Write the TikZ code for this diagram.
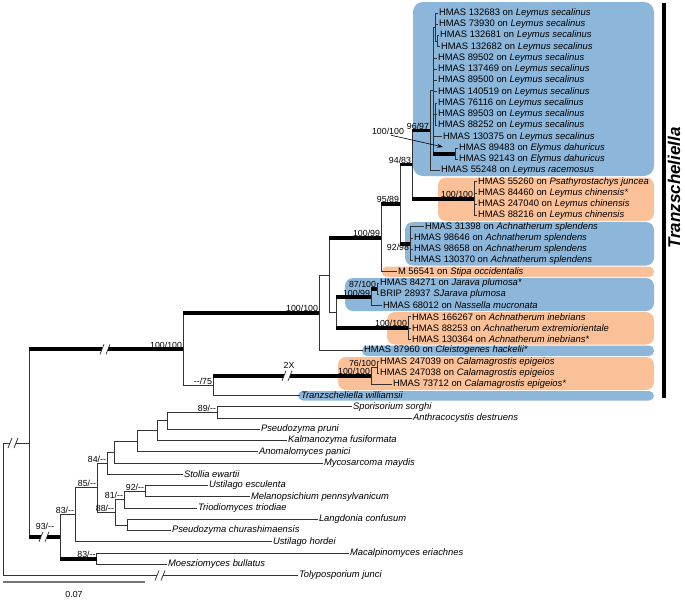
\documentclass[tikz,border=0pt]{standalone}
\usepackage{fontspec}
\setmainfont{Liberation Sans}
\usepackage{xcolor}
\usetikzlibrary{arrows.meta}
\definecolor{cladeblue}{RGB}{140,182,218}
\definecolor{cladeorange}{RGB}{250,192,152}
\tikzset{
  leaf/.style={anchor=west,inner sep=0.8pt,font=\fontsize{9.4}{10}\selectfont},
  br/.style={draw=black!80,line width=0.75pt},
  bs/.style={draw=black,line width=3.8pt},
  bsv/.style={anchor=south east,inner sep=0.8pt,font=\fontsize{8.8}{9}\selectfont},
  brk/.pic={\fill[white] (-3,-3) rectangle (3,3);
            \draw[black!80,line width=0.75pt] (-5,5) -- (-1,-5) (1,5) -- (5,-5);},
}

\begin{document}
\begin{tikzpicture}[x=1pt,y=-1pt,font=\fontsize{9.4}{10}\selectfont]
  \useasboundingbox (0,0) rectangle (685,600);
  \foreach \c/\r/\xa/\ya/\yb in {cladeblue/10/413/2/176, cladeorange/8/438/177.5/221,
      cladeblue/8/405/222/265.5, cladeorange/5/382/266.5/277, cladeblue/8/345/278/311,
      cladeorange/8/387/312/344.5, cladeblue/5/362/345.5/356, cladeorange/8/338/357/390,
      cladeblue/5/298/391/400.5}
    \fill[\c,rounded corners=\r pt] (\xa,\ya) rectangle (654,\yb);

  \foreach \i/\x/\t in {1/438/{HMAS 132683 on \textit{Leymus secalinus}},
      2/438/{HMAS 73930 on \textit{Leymus secalinus}},
      3/439/{HMAS 132681 on \textit{Leymus secalinus}},
      4/440/{HMAS 132682 on \textit{Leymus secalinus}},
      5/437/{HMAS 89502 on \textit{Leymus secalinus}},
      6/437/{HMAS 137469 on \textit{Leymus secalinus}},
      7/437/{HMAS 89500 on \textit{Leymus secalinus}},
      8/437/{HMAS 140519 on \textit{Leymus secalinus}},
      9/437/{HMAS 76116 on \textit{Leymus secalinus}},
      10/437/{HMAS 89503 on \textit{Leymus secalinus}},
      11/437/{HMAS 88252 on \textit{Leymus secalinus}},
      12/442/{HMAS 130375 on \textit{Leymus secalinus}},
      13/458/{HMAS 89483 on \textit{Elymus dahuricus}},
      14/458/{HMAS 92143 on \textit{Elymus dahuricus}},
      15/440/{HMAS 55248 on \textit{Leymus racemosus}},
      16/477/{HMAS 55260 on \textit{Psathyrostachys juncea}},
      17/477/{HMAS 84460 on \textit{Leymus chinensis*}},
      18/477/{HMAS 247040 on \textit{Leymus chinensis}},
      19/477/{HMAS 88216 on \textit{Leymus chinensis}},
      20/424/{HMAS 31398 on \textit{Achnatherum splendens}},
      21/413/{HMAS 98646 on \textit{Achnatherum splendens}},
      22/413/{HMAS 98658 on \textit{Achnatherum splendens}},
      23/413/{HMAS 130370 on \textit{Achnatherum splendens}},
      24/397/{M 56541 on \textit{Stipa occidentalis}},
      25/379/{HMAS 84271 on \textit{Jarava plumosa*}},
      26/379/{BRIP 28937 \textit{SJarava plumosa}},
      27/382/{HMAS 68012 on \textit{Nassella mucronata}},
      28/411/{HMAS 166267 on \textit{Achnatherum inebrians}},
      29/411/{HMAS 88253 on \textit{Achnatherum extremiorientale}},
      30/411/{HMAS 130364 on \textit{Achnatherum inebrians*}},
      31/363/{HMAS 87960 on \textit{Cleistogenes hackelii*}},
      32/379/{HMAS 247039 on \textit{Calamagrostis epigeios}},
      33/379/{HMAS 247038 on \textit{Calamagrostis epigeios}},
      34/392/{HMAS 73712 on \textit{Calamagrostis epigeios*}},
      35/300/{\textit{Tranzscheliella williamsii}},
      36/352/{\textit{Sporisorium sorghi}},
      37/412/{\textit{Anthracocystis destruens}},
      38/260/{\textit{Pseudozyma pruni}},
      39/287/{\textit{Kalmanozyma fusiformata}},
      40/258/{\textit{Anomalomyces panici}},
      41/323/{\textit{Mycosarcoma maydis}},
      42/183/{\textit{Stollia ewartii}},
      43/208/{\textit{Ustilago esculenta}},
      44/250/{\textit{Melanopsichium pennsylvanicum}},
      45/197/{\textit{Triodiomyces triodiae}},
      46/318/{\textit{Langdonia confusum}},
      47/171/{\textit{Pseudozyma churashimaensis}},
      48/272/{\textit{Ustilago hordei}},
      49/349/{\textit{Macalpinomyces eriachnes}},
      50/167/{\textit{Moesziomyces bullatus}},
      51/298/{\textit{Tolyposporium junci}}}
    \node[leaf] (t\i) at (\x,{13+(\i-1)*11.25}) {\t};

  \coordinate (n2) at (437,41.1);
  \coordinate (ta) at (435,27.1);
  \coordinate (ua) at (435,114.3);
  \coordinate (ely) at (455,153.6);
  \coordinate (qa) at (433,90.3);
  \coordinate (p96) at (430,130.4);
  \coordinate (chi) at (474,198.6);
  \coordinate (p94) at (412,164.5);
  \coordinate (spl) at (410,243.6);
  \coordinate (p95) at (400,204);
  \coordinate (p100) at (381,237.9);
  \coordinate (jar87) at (377,288.6);
  \coordinate (jar) at (371,297.1);
  \coordinate (ine) at (408,328);
  \coordinate (ka) at (336,312.5);
  \coordinate (la) at (329,275.2);
  \coordinate (ma) at (319,312.9);
  \coordinate (cal76) at (377,367.4);
  \coordinate (cal) at (371,375.8);
  \coordinate (g75) at (213,385.6);
  \coordinate (h100) at (183,349.3);
  \coordinate (stem) at (29,443);
  \coordinate (root) at (3,443);
  \coordinate (o89) at (217,412.4);
  \coordinate (o2) at (167,420.8);
  \coordinate (o3) at (157,430.7);
  \coordinate (o4) at (137,441.2);
  \coordinate (o5) at (114,452.1);
  \coordinate (o84) at (107,463.2);
  \coordinate (o92) at (145,491.1);
  \coordinate (o81) at (124,499.6);
  \coordinate (olan) at (127,524.9);
  \coordinate (o88) at (115,512.2);
  \coordinate (o85) at (97,487.7);
  \coordinate (o83a) at (75,514.7);
  \coordinate (o83b) at (96.5,558.6);
  \coordinate (o93) at (60,536.7);

  \foreach \p/\c in {ta/1,ta/2,n2/3,n2/4,qa/5,qa/6,qa/7,qa/8,ua/9,ua/10,ua/11,qa/12,
      ely/13,ely/14,p96/15,chi/16,chi/17,chi/18,chi/19,spl/20,spl/21,spl/22,spl/23,
      p100/24,jar87/25,jar87/26,jar/27,ine/28,ine/29,ine/30,ma/31,cal76/32,cal76/33,
      cal/34,g75/35,o89/36,o89/37,o2/38,o3/39,o4/40,o5/41,o84/42,o92/43,o92/44,o81/45,
      olan/46,olan/47,o83a/48,o83b/49,o83b/50,root/51}
    \draw[br] (\p) |- (t\c.west);
  \foreach \p/\c in {ta/n2,qa/ta,qa/ua,p96/qa,la/ka,ma/la,h100/g75,cal/cal76,root/stem,
      o2/o89,o3/o2,o4/o3,o5/o4,o84/o5,o85/o84,o81/o92,o88/o81,o88/olan,o85/o88,
      o83a/o85,o93/o83a}
    \draw[br] (\p) |- (\c);
  \foreach \p/\c in {qa/ely,p94/p96,p94/chi,p95/p94,p95/spl,p100/p95,la/p100,ka/jar,
      jar/jar87,ka/ine,h100/ma,g75/cal,stem/h100,stem/o93,o93/o83b}{
    \draw[br] (\p) |- (\c);
    \draw[bs] (\p |- \c) -- (\c);}

  \foreach \x/\y in {105/349.3,287/375.8,44/536.7,13/443,160/575.5}
    \pic at (\x,\y) {brk};

  \foreach \n/\v in {h100/{100/100},ma/{100/100},p100/{100/99},p95/{95/89},p94/{94/83},
      p96/{96/97},chi/{100/100},jar/{100/99},jar87/{87/100},ine/{100/100},cal76/{76/100},
      cal/{100/100},g75/{-{}-/75},o89/{89/-{}-},o84/{84/-{}-},o85/{85/-{}-},o92/{92/-{}-},
      o81/{81/-{}-},o88/{88/-{}-},o83a/{83/-{}-},o83b/{83/-{}-}}
    \node[bsv] (s-\n) at (\n) {\v};
  \node[bsv,anchor=north east] (s-spl) at (spl) {92/98};
  \node[bsv,anchor=south] (s-o93) at (45,531) {93/-{}-};
  \node[bsv,anchor=south] (x2) at (289,369) {2X};
  \node[bsv,anchor=center] (s-ely) at (388,131) {100/100};
  \coordinate (ely-tip) at (443,147);
  \draw[black,line width=0.6pt,-{Stealth[length=6pt,width=4pt]}] ([xshift=3pt]s-ely.south) -- (ely-tip);

  \coordinate (ga) at (664,3);
  \coordinate (gb) at (664,398);
  \draw[line width=4pt] (ga) -- (gb);
  \node[rotate=90,anchor=base,inner sep=0pt,text depth=0pt,
        font=\fontsize{17}{17}\selectfont\bfseries\itshape] (genus) at (680,188) {Tranzscheliella};

  \coordinate (sa) at (3,582);
  \coordinate (sb) at (145,582);
  \draw[black!55,line width=1.2pt] (sa) -- (sb);
  \node[font=\fontsize{8.8}{9}\selectfont] (sl) at (74,594) {0.07};
\end{tikzpicture}
\end{document}
